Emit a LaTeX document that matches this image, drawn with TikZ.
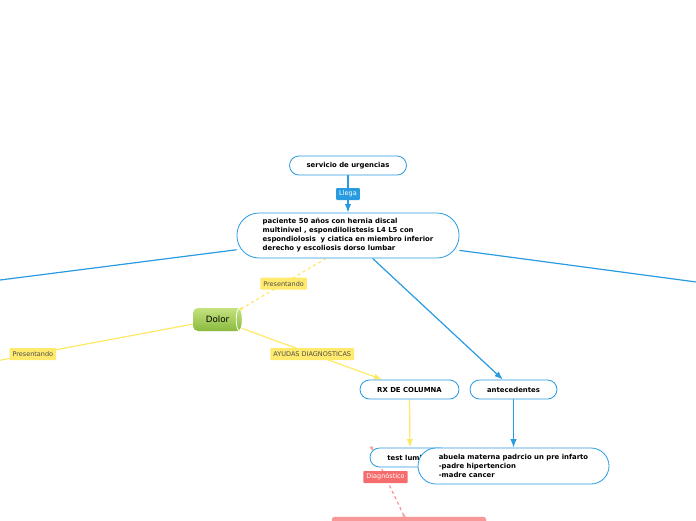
\documentclass[tikz,border=0pt]{standalone}
\usepackage{fontspec}
\setmainfont{DejaVu Sans}
\usepackage{tikz}
\usetikzlibrary{calc}
\usetikzlibrary{arrows.meta}
\usetikzlibrary{shapes}
\usetikzlibrary{positioning}
\usetikzlibrary{backgrounds}
\definecolor{mapblue}{RGB}{40,155,225}
\definecolor{mapyellow}{RGB}{255,232,100}
\definecolor{lblyellow}{RGB}{255,234,110}
\definecolor{mapred}{RGB}{246,108,108}
\definecolor{dolorlight}{RGB}{196,226,128}
\definecolor{dolordark}{RGB}{138,186,62}
\tikzset{>=Latex}
\tikzstyle{topic} = [rectangle, rounded corners=9.5pt, draw=mapblue, fill=white, line width=0.8pt, minimum height=19pt, inner sep=0pt, font=\fontsize{6.9}{9}\selectfont\bfseries]
\tikzstyle{lbl} = [rectangle, rounded corners=0.8pt, inner xsep=3pt, inner ysep=0pt, minimum height=12pt, font=\fontsize{6.5}{7}\selectfont]
\tikzstyle{ylbl} = [lbl, fill=lblyellow, text=black!70]
\tikzstyle{blbl} = [lbl, fill=mapblue, text=white]
\tikzstyle{rlbl} = [lbl, fill=mapred, text=white]
\tikzstyle{bline} = [draw=mapblue, line width=1.2pt]
\tikzstyle{yline} = [draw=mapyellow, line width=1.2pt]
\tikzstyle{enddot} = [circle, fill=mapred!60, inner sep=0pt, minimum size=3.5pt]

\begin{document}
\begin{tikzpicture}[x=1pt, y=-1pt]
\useasboundingbox (0,0) rectangle (696,520);
% nodes
\node [topic, minimum width=117pt] (servicio) at (348,165.5) {servicio de urgencias};
\node [topic, minimum width=222pt, minimum height=45pt, rounded corners=22pt, align=left] (paciente) at (348,235.5) {paciente 50 años con hernia discal\\multinivel , espondilolistesis L4 L5 con\\espondiolosis\ \ y ciatica en miembro inferior\\derecho y escoliosis dorso lumbar};
\node [rectangle, rounded corners=5pt, minimum width=49pt, minimum height=23pt, inner sep=0pt, top color=dolorlight, bottom color=dolordark, font=\fontsize{8.7}{10}\selectfont] (dolor) at (217.5,319.5) {Dolor};
\draw [white, line width=0.8pt] ($(dolor.east)+(-3,0)$) ellipse (3pt and 11pt);
\node [topic, minimum width=99pt] (rx) at (409.5,389.5) {RX DE COLUMNA};
\node [topic, minimum width=87pt] (antecedentes) at (513.5,389.5) {antecedentes};
\node [topic, minimum width=80pt] (test) at (410,457.5) {test lumbar};
\node [topic, minimum width=191pt, minimum height=36pt, rounded corners=18pt, align=left, font=\fontsize{6.9}{8.6}\selectfont\bfseries] (abuela) at (513.5,466) {abuela materna padrcio un pre infarto\\-padre hipertencion\\-madre cancer};
\node [rectangle, rounded corners=3pt, draw=mapred!80, fill=mapred!70, minimum width=154pt, minimum height=26pt] (diagbox) at (409,530) {};
\coordinate (far west) at (-10,281.3);
\coordinate (far east) at (706,283.3);
\coordinate (dolor west) at (-127,384);
\coordinate (test dot) at ($(test.north west)+(2,0)$);
\coordinate (box dot) at (404,516);
% connectors
\begin{scope}[on background layer]
\draw [bline, ->] (servicio) -- node [blbl] {Llega} (paciente);
\draw [bline] (paciente) -- (far west);
\draw [bline] (paciente) -- (far east);
\draw [bline, ->] (paciente) -- (antecedentes);
\draw [yline, dashed] ($(paciente.south)+(-22,0)$) -- node [ylbl] {Presentando} ($(dolor.north east)+(-1,1)$);
\draw [yline] (dolor) -- node [ylbl] {Presentando} (dolor west);
\draw [yline, ->] (dolor) -- node [ylbl] {AYUDAS DIAGNOSTICAS} (rx);
\draw [yline, ->] (rx) -- (test);
\draw [bline, ->] (antecedentes) -- (abuela);
\draw [draw=mapred!75, line width=1.2pt, dashed] (test dot) -- node [rlbl, pos=0.43] {Diagnóstico} (box dot);
\end{scope}
\node [circle, fill=mapyellow, inner sep=0pt, minimum size=3.5pt] (ydot) at ($(dolor.north east)+(-1,1)$) {};
\node [enddot] (tdot) at (test dot) {};
\node [enddot] (bdot) at (box dot) {};
\end{tikzpicture}
\end{document}
